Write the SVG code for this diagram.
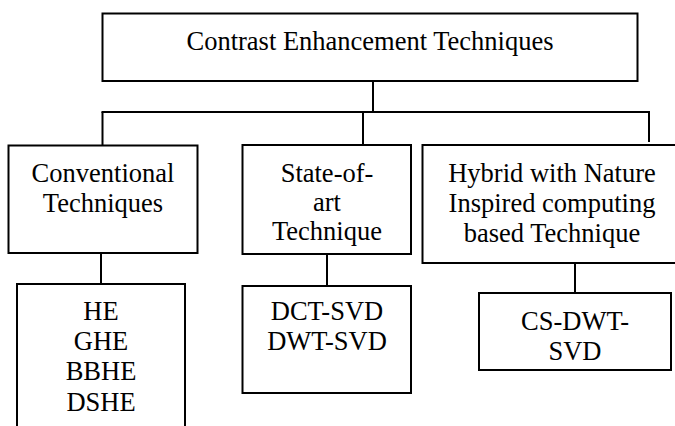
<svg xmlns="http://www.w3.org/2000/svg" width="675" height="426" viewBox="0 0 675 426">
<style>
rect{fill:#fff;stroke:#000;stroke-width:2}
.c line{stroke:#000;stroke-width:2}
text{font-family:"Liberation Serif","Times New Roman",serif;font-size:26.5px;fill:#000;text-anchor:middle}
</style>
<rect x="0" y="0" width="675" height="426" style="stroke:none"/>
<g class="c" id="connectors">
<line x1="373" y1="81" x2="373" y2="112"/>
<line x1="101.5" y1="112" x2="650" y2="112"/>
<line x1="102.5" y1="112" x2="102.5" y2="146"/>
<line x1="363" y1="112" x2="363" y2="145"/>
<line x1="649" y1="112" x2="649" y2="142"/>
<line x1="101" y1="253" x2="101" y2="284"/>
<line x1="327" y1="254" x2="327" y2="286"/>
<line x1="575" y1="263" x2="575" y2="293"/>
</g>
<g id="root">
<rect x="102.5" y="13.5" width="535" height="67.5"/>
<text x="370" y="49.5">Contrast Enhancement Techniques</text>
</g>
<g id="conventional">
<rect x="8.5" y="145.5" width="189" height="107.5"/>
<text x="103" y="182">Conventional</text>
<text x="103" y="212">Techniques</text>
</g>
<g id="stateofart">
<rect x="242.5" y="145" width="168.5" height="109"/>
<text x="327" y="182">State-of-</text>
<text x="327" y="211">art</text>
<text x="327" y="240">Technique</text>
</g>
<g id="hybrid">
<rect x="422.5" y="145" width="260" height="118"/>
<text x="552" y="182">Hybrid with Nature</text>
<text x="552" y="212">Inspired computing</text>
<text x="552" y="242">based Technique</text>
</g>
<g id="conventional-list">
<rect x="17" y="284" width="168" height="150"/>
<text x="101" y="320">HE</text>
<text x="101" y="350">GHE</text>
<text x="101" y="380">BBHE</text>
<text x="101" y="411">DSHE</text>
</g>
<g id="stateofart-list">
<rect x="242.5" y="286" width="168.5" height="107"/>
<text x="327" y="320">DCT-SVD</text>
<text x="327" y="350">DWT-SVD</text>
</g>
<g id="hybrid-list">
<rect x="479" y="293" width="192" height="77"/>
<text x="575" y="330">CS-DWT-</text>
<text x="575" y="360">SVD</text>
</g>
</svg>
